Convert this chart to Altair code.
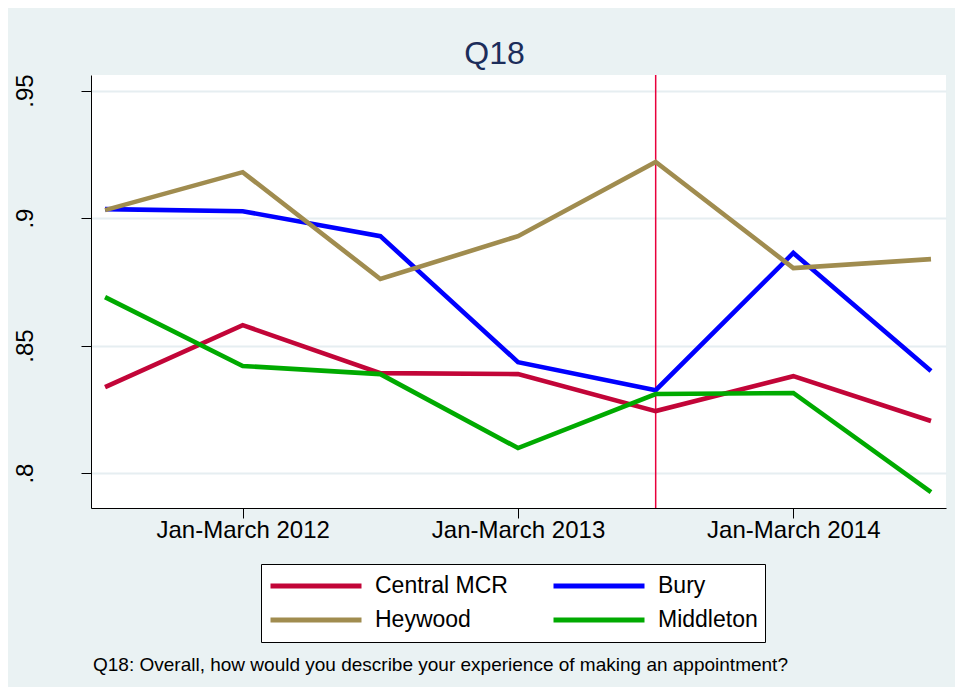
import altair as alt
import pandas as pd

# ---- data ----
periods = [0, 1, 2, 3, 4, 5, 6]
central_mcr = [0.8337, 0.8580, 0.8392, 0.8388, 0.8243, 0.8380, 0.8204]
bury = [0.9035, 0.9027, 0.8929, 0.8435, 0.8325, 0.8863, 0.8400]
heywood = [0.9031, 0.9180, 0.8761, 0.8929, 0.9220, 0.8804, 0.8839]
middleton = [0.8690, 0.8420, 0.8388, 0.8098, 0.8310, 0.8314, 0.7925]

series_names = ["Central MCR", "Bury", "Heywood", "Middleton"]
series_colors = ["#C20538", "#0000FF", "#A08C4F", "#00AA00"]

x_tick_values = [1, 3, 5]
x_tick_labels = ["Jan-March 2012", "Jan-March 2013", "Jan-March 2014"]
y_tick_values = [0.8, 0.85, 0.9, 0.95]
y_tick_labels = [".8", ".85", ".9", ".95"]
marker_period = [4]
title_text = "Q18"
note_text = "Q18: Overall, how would you describe your experience of making an appointment?"

FONT = "Liberation Sans"

rows = []
for name, vals in zip(series_names, [central_mcr, bury, heywood, middleton]):
    for p, v in zip(periods, vals):
        rows.append({"period": p, "value": v, "series": name})
df = pd.DataFrame(rows)


def label_expr(values, labels):
    expr = "''"
    for v, l in reversed(list(zip(values, labels))):
        expr = f"abs(datum.value - {v}) < 1e-6 ? '{l}' : ({expr})"
    return expr


x_scale = alt.Scale(domain=[-0.102, 6.109], nice=False, zero=False)
y_scale = alt.Scale(domain=[0.7863, 0.9561], nice=False, zero=False)

rule = alt.Chart(pd.DataFrame({"period": marker_period})).mark_rule(
    color="#E8003C", strokeWidth=1.5
).encode(x=alt.X("period:Q", scale=x_scale))

lines = alt.Chart(df).mark_line(strokeWidth=4.6).encode(
    x=alt.X(
        "period:Q",
        scale=x_scale,
        axis=alt.Axis(
            values=x_tick_values,
            labelExpr=label_expr(x_tick_values, x_tick_labels),
            title=None,
            grid=False,
            tickSize=10,
            labelPadding=19,
            labelBaseline="alphabetic",
            labelFontSize=24,
            labelFlush=False,
            labelOverlap=False,
        ),
    ),
    y=alt.Y(
        "value:Q",
        scale=y_scale,
        axis=alt.Axis(
            values=y_tick_values,
            labelExpr=label_expr(y_tick_values, y_tick_labels),
            title=None,
            grid=True,
            gridColor="#E6EEF1",
            gridWidth=2,
            tickSize=10,
            labelAngle=270,
            labelAlign="center",
            labelBaseline="alphabetic",
            labelPadding=49,
            labelFontSize=24,
            labelFlush=False,
            labelOverlap=False,
        ),
    ),
    color=alt.Color(
        "series:N",
        scale=alt.Scale(domain=series_names, range=series_colors),
        legend=alt.Legend(
            title=None,
            orient="none",
            legendX=170,
            legendY=489,
            direction="horizontal",
            columns=2,
            symbolType="stroke",
            symbolSize=8281,
            symbolStrokeWidth=5,
            clipHeight=30,
            labelFontSize=23,
            labelFont=FONT,
            labelColor="black",
            labelOffset=11,
            columnPadding=43,
            rowPadding=4,
            padding=7,
            strokeColor="black",
            fillColor="white",
        ),
    ),
)

note = alt.Chart(pd.DataFrame({"note": [note_text]})).mark_text(
    align="left", baseline="alphabetic", fontSize=19, font=FONT, color="black"
).encode(x=alt.value(2), y=alt.value(596), text="note:N")

chart = (
    alt.layer(rule, lines, note)
    .properties(
        width=855,
        height=433,
        title=alt.TitleParams(
            text=title_text,
            fontSize=32,
            font=FONT,
            fontWeight="normal",
            color="#1C2D5A",
            anchor="middle",
            frame="group",
            dx=-24,
            dy=30,
            offset=8,
            baseline="alphabetic",
        ),
        autosize=alt.AutoSizeParams(type="none"),
        padding={"left": 83, "top": 67, "right": 9, "bottom": 179},
        background="#EAF2F3",
    )
    .configure_view(fill="white", stroke=None)
    .configure_axis(
        domainColor="black",
        domainWidth=1,
        tickColor="black",
        tickWidth=1,
        labelColor="black",
        labelFont=FONT,
    )
)

chart.save("out.html", embed_options={"renderer": "svg", "actions": False})
